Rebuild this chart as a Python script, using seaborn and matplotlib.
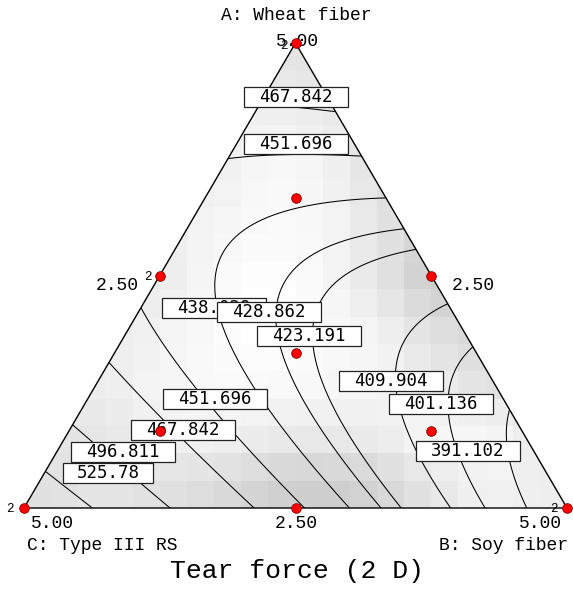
import numpy as np
import matplotlib
matplotlib.use("Agg")
import matplotlib.pyplot as plt
from matplotlib.path import Path
from matplotlib.patches import Polygon
import pandas as pd
import seaborn as sns

# ---------------- data ----------------
# Scheffe quadratic mixture model for Tear force (read from contour geometry)
linear_coef = [496.0, 382.0, 553.0]     # A, B, C
binary_coef = [-90.0, -313.0, -52.0]    # AB, AC, BC
contour_levels = [391.102, 401.136, 409.904, 423.191, 428.862, 438.029,
                  451.696, 467.842, 496.811, 525.78]

# design points (fractions of A, B, C) and replicate counts
design_A = [1, 0, 0, 1/2, 1/2, 0, 2/3, 1/6, 1/6, 1/3]
design_B = [0, 1, 0, 1/2, 0, 1/2, 1/6, 2/3, 1/6, 1/3]
design_C = [0, 0, 1, 0, 1/2, 1/2, 1/6, 1/6, 2/3, 1/3]
replicates = [2, 2, 2, 1, 2, 1, 1, 1, 1, 1]

# contour label values shown in boxes
label_values = [467.842, 451.696, 438.029, 428.862, 423.191, 451.696,
                467.842, 496.811, 525.78, 409.904, 401.136, 391.102]

# background gray shading (coarse, rows top->bottom)
shade_gray = [
    [.90, .90, .90, .90, .90, .89, .88, .88, .88, .88],
    [.93, .93, .93, .93, .95, .93, .90, .90, .90, .90],
    [.93, .93, .93, .93, .98, .96, .88, .86, .86, .86],
    [.93, .93, .93, .96, .98, .97, .90, .83, .83, .83],
    [.92, .92, .92, .97, 1.0, .97, .90, .80, .80, .80],
    [.93, .93, .95, .98, 1.0, .98, .95, .87, .84, .84],
    [.93, .93, .96, .98, .98, .97, .97, .93, .88, .88],
    [.90, .90, .95, .95, .93, .92, .93, .97, .97, .92],
    [.88, .90, .88, .86, .82, .80, .83, .90, .95, .93],
]

tick_A = ["5.00", "2.50"]
tick_B = ["2.50", "5.00"]
tick_C = ["5.00", "2.50"]

# ---------------- layout ----------------
W, H = 573, 601
sns.set_theme(style="white")
plt.rcParams['font.family'] = ['Liberation Mono', 'DejaVu Sans']

fig = plt.figure(figsize=(W / 100, H / 100), dpi=100)
fig.patch.set_facecolor('white')
left_px, right_px, top_px, bot_px = 24, 567, 43, 508
ax = fig.add_axes([left_px / W, (H - bot_px) / H, (right_px - left_px) / W, (bot_px - top_px) / H])
ax.set_xlim(0, 1)
ax.set_ylim(0, 1)
ax.axis('off')


def fx(px):
    return px / W


def fy(py):
    return 1 - py / H


tri_xy = np.array([[0, 0], [1, 0], [0.5, 1]])
tri_patch = Polygon(tri_xy, closed=True, transform=ax.transData, facecolor='none', edgecolor='none')
ax.add_patch(tri_patch)

# shading
sg = np.array(shade_gray)[::-1]  # bottom->top
cy = np.linspace(0.049, 0.944, sg.shape[0])
cx = np.linspace(0.05, 0.95, sg.shape[1])
nxc, nyc = 20, 17
xe = np.linspace(0, 1, nxc + 1)
ye = np.linspace(0, 1, nyc + 1)
xm = (xe[:-1] + xe[1:]) / 2
ym = (ye[:-1] + ye[1:]) / 2
tmp = np.array([np.interp(xm, cx, row) for row in sg])
fine = np.array([np.interp(ym, cy, tmp[:, j]) for j in range(nxc)]).T
mesh = ax.pcolormesh(xe, ye, fine, cmap='gray', vmin=0, vmax=1, shading='flat', zorder=1)
mesh.set_clip_path(tri_patch)

# response surface
gx, gy = np.meshgrid(np.linspace(-0.02, 1.02, 500), np.linspace(-0.02, 1.02, 500))
A = gy
B = gx - gy / 2
C = 1 - A - B
F = (linear_coef[0] * A + linear_coef[1] * B + linear_coef[2] * C
     + binary_coef[0] * A * B + binary_coef[1] * A * C + binary_coef[2] * B * C)
cs = ax.contour(gx, gy, F, levels=sorted(contour_levels), colors='black', linewidths=0.75, zorder=2)
cs.set_clip_path(tri_patch)

# triangle outline
ax.plot([0, 1, 0.5, 0], [0, 0, 1, 0], color='black', lw=1.0, clip_on=False, zorder=3)

# design points
df = pd.DataFrame({'A': design_A, 'B': design_B, 'C': design_C, 'rep': replicates})
df['x'] = df['B'] + df['A'] / 2
df['y'] = df['A']
sns.scatterplot(data=df, x='x', y='y', ax=ax, color='#ff0000', edgecolor='#800000',
                linewidth=0.6, s=48, zorder=6, clip_on=False, legend=False)
ax.set_xlim(0, 1)
ax.set_ylim(0, 1)
ax.axis('off')


# contour label boxes
def fixed_box(wpx, hpx):
    def box(x0, y0, width, height, mutation_size):
        cxp = x0 + width / 2
        cyp = y0 + height / 2
        return Path([(cxp - wpx / 2, cyp - hpx / 2), (cxp + wpx / 2, cyp - hpx / 2),
                     (cxp + wpx / 2, cyp + hpx / 2), (cxp - wpx / 2, cyp + hpx / 2),
                     (cxp - wpx / 2, cyp - hpx / 2)], closed=True)
    return box


label_pos = [(296, 97), (296, 144), (214, 308), (269, 312), (309, 336), (215, 399),
             (183, 430), (123, 452), (108, 473), (391, 381), (441, 404), (468, 451)]
for val, (px, py) in zip(label_values, label_pos):
    s = f"{val:g}"
    ax.text(fx(px), fy(py), s, transform=fig.transFigure, ha='center', va='center',
            family=['DejaVu Sans Mono'], fontsize=12.5, color='black', zorder=5, clip_on=False,
            bbox=dict(boxstyle=fixed_box(len(s) * 14.7 + 1, 19.5), facecolor='white',
                      edgecolor='#222222', linewidth=0.9))

# axis / tick labels
tk = dict(transform=fig.transFigure, ha='center', va='center', fontsize=13, color='black',
          clip_on=False, zorder=4)
ax.text(fx(296), fy(16), "A: Wheat fiber", **tk)
ax.text(fx(297), fy(41), tick_A[0], **tk)
ax.text(fx(117), fy(286), tick_A[1], **tk)
ax.text(fx(473), fy(286), tick_B[0], **tk)
ax.text(fx(52), fy(523), tick_C[0], **tk)
ax.text(fx(296), fy(523), tick_C[1], **tk)
ax.text(fx(540), fy(523), tick_B[1], **tk)
ax.text(fx(27), fy(545), "C: Type III RS", transform=fig.transFigure, ha='left', va='center',
        fontsize=13, color='black', clip_on=False)
ax.text(fx(568), fy(545), "B: Soy fiber", transform=fig.transFigure, ha='right', va='center',
        fontsize=13, color='black', clip_on=False)
ax.text(fx(297), fy(571), "Tear force (2 D)", transform=fig.transFigure, ha='center', va='center',
        fontsize=19, color='black', clip_on=False)

# replicate markers
rk = dict(transform=fig.transFigure, ha='center', va='center', fontsize=9, color='black',
          clip_on=False, zorder=4)
ax.text(fx(284), fy(46), "2", **rk)
ax.text(fx(148), fy(277), "2", **rk)
ax.text(fx(10), fy(509), "2", **rk)
ax.text(fx(554), fy(509), "2", **rk)

fig.savefig("out.png", dpi=100)
